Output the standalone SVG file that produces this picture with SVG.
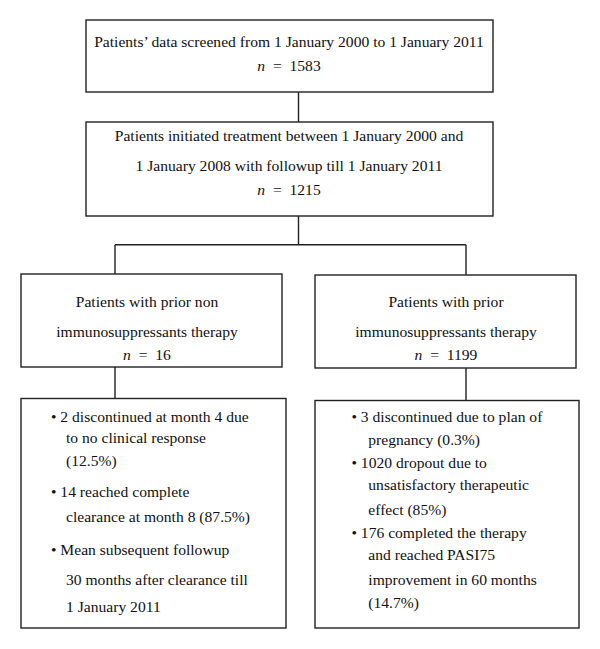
<svg xmlns="http://www.w3.org/2000/svg" width="600" height="649" viewBox="0 0 600 649">
<style>
.box{fill:#fff;stroke:#222;stroke-width:1.4}
.ln{fill:none;stroke:#222;stroke-width:1.4}
text{font-family:"Liberation Serif","Times New Roman",serif;font-size:15.6px;fill:#111}
.c{text-anchor:middle}
</style>
<rect width="600" height="649" fill="#fff"/>
<g id="connectors">
<path class="ln" d="M298.5 92V122"/>
<path class="ln" d="M298.5 216V244.7M115 244.7H466M115 244.7V274M466 244.7V275"/>
<path class="ln" d="M115 367V398.5M466 368V400.5"/>
</g>
<g id="n1">
<rect class="box" x="86" y="20" width="407" height="72"/>
<text class="c" x="289" y="47">Patients’ data screened from 1 January 2000 to 1 January 2011</text>
<text class="c" x="289" y="71"><tspan font-style="italic">n</tspan>&#160;&#160;=&#160;&#160;1583</text>
</g>
<g id="n2">
<rect class="box" x="86" y="122" width="407" height="94"/>
<text class="c" x="289" y="141">Patients initiated treatment between 1 January 2000 and</text>
<text class="c" x="289" y="171">1 January 2008 with followup till 1 January 2011</text>
<text class="c" x="289" y="195"><tspan font-style="italic">n</tspan>&#160;&#160;=&#160;&#160;1215</text>
</g>
<g id="n3">
<rect class="box" x="21" y="274" width="261" height="93"/>
<text class="c" x="147" y="307">Patients with prior non</text>
<text class="c" x="147" y="336.5">immunosuppressants therapy</text>
<text class="c" x="147" y="360"><tspan font-style="italic">n</tspan>&#160;&#160;=&#160;&#160;16</text>
</g>
<g id="n4">
<rect class="box" x="315" y="275" width="261" height="93"/>
<text class="c" x="446" y="307">Patients with prior</text>
<text class="c" x="446" y="336.5">immunosuppressants therapy</text>
<text class="c" x="446" y="360"><tspan font-style="italic">n</tspan>&#160;&#160;=&#160;&#160;1199</text>
</g>
<g id="n5">
<rect class="box" x="21" y="398.5" width="265" height="229.5"/>
<text x="51" y="421.7">• 2 discontinued at month 4 due</text>
<text x="66" y="443.3">to no clinical response</text>
<text x="66" y="466">(12.5%)</text>
<text x="51" y="496.7">• 14 reached complete</text>
<text x="66" y="521.7">clearance at month 8 (87.5%)</text>
<text x="51" y="555">• Mean subsequent followup</text>
<text x="66" y="585">30 months after clearance till</text>
<text x="66" y="611.7">1 January 2011</text>
</g>
<g id="n6">
<rect class="box" x="315" y="400.5" width="264" height="227.5"/>
<text x="351.5" y="421.7">• 3 discontinued due to plan of</text>
<text x="368.3" y="445">pregnancy (0.3%)</text>
<text x="351.5" y="468.3">• 1020 dropout due to</text>
<text x="368.3" y="490">unsatisfactory therapeutic</text>
<text x="368.3" y="515">effect (85%)</text>
<text x="351.5" y="538.3">• 176 completed the therapy</text>
<text x="368.3" y="560">and reached PASI75</text>
<text x="368.3" y="585">improvement in 60 months</text>
<text x="368.3" y="608.3">(14.7%)</text>
</g>
</svg>
